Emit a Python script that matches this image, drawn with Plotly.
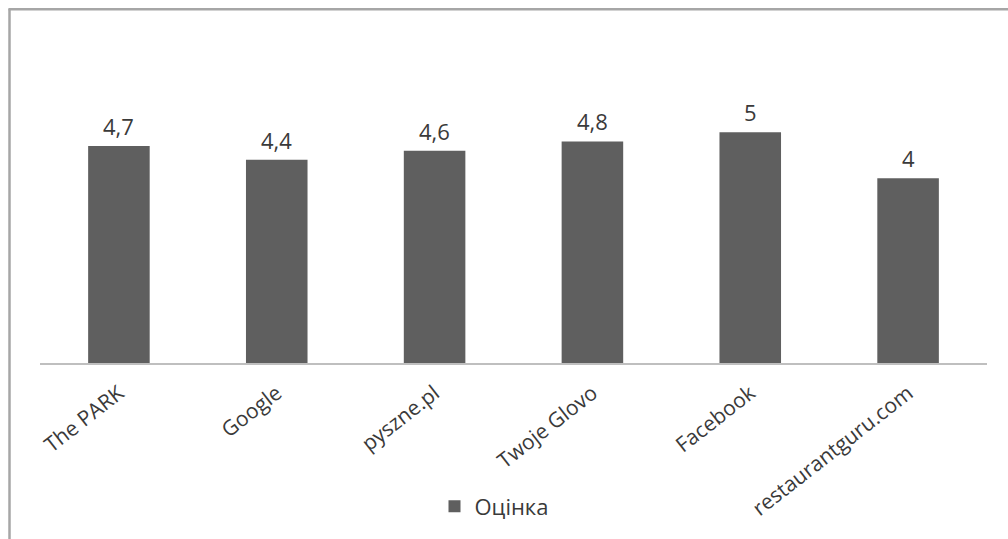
import plotly.graph_objects as go

categories = ["The PARK", "Google", "pyszne.pl", "Twoje Glovo", "Facebook", "restaurantguru.com"]
ratings = [4.7, 4.4, 4.6, 4.8, 5, 4]
series_name = "Оцінка"

labels = [f"{v:g}".replace(".", ",") for v in ratings]

W, H = 1008, 539
L, R, T, B = 40, 21, 86, 173
pw, ph = W - L - R, H - T - B

def px(x):
    return (x - L) / pw

def py(y):
    return (H - B - y) / ph

bar_color = "#5f5f5f"
text_color = "#3a3a3a"
font_family = "Open Sans, DejaVu Sans, sans-serif"

fig = go.Figure()
fig.add_trace(go.Bar(
    x=categories, y=ratings, name=series_name,
    marker=dict(color=bar_color, line=dict(width=0)),
    showlegend=True,
))

for c, v, t in zip(categories, ratings, labels):
    fig.add_annotation(
        x=c, y=v, xref="x", yref="y", text=t, showarrow=False,
        yanchor="middle", yshift=20,
        font=dict(size=22, color=text_color, family=font_family),
    )

fig.update_layout(
    width=W, height=H,
    margin=dict(l=L, r=R, t=T, b=B),
    paper_bgcolor="white", plot_bgcolor="white",
    bargap=0.61,
    font=dict(family=font_family, color=text_color),
    xaxis=dict(
        showline=True, linecolor="#bfbfbf", linewidth=1.5,
        tickangle=-38, tickfont=dict(size=21, color=text_color),
        ticklabelstandoff=8,
        showgrid=False, ticks="", fixedrange=True,
    ),
    yaxis=dict(range=[0, 6], visible=False, showgrid=False, fixedrange=True),
    showlegend=True,
    legend=dict(
        orientation="h", x=px(494), xanchor="center", y=py(511), yanchor="middle",
        font=dict(size=22, color=text_color), bgcolor="rgba(0,0,0,0)",
        itemwidth=30,
    ),
    shapes=[
        dict(type="line", xref="paper", yref="paper",
             x0=px(9.5), x1=px(9.5), y0=py(8), y1=py(545),
             line=dict(color="#a6a6a6", width=2.5)),
        dict(type="line", xref="paper", yref="paper",
             x0=px(8.5), x1=px(1012), y0=py(8.5), y1=py(8.5),
             line=dict(color="#a6a6a6", width=2.5)),
    ],
)

fig.write_html("out.html")
